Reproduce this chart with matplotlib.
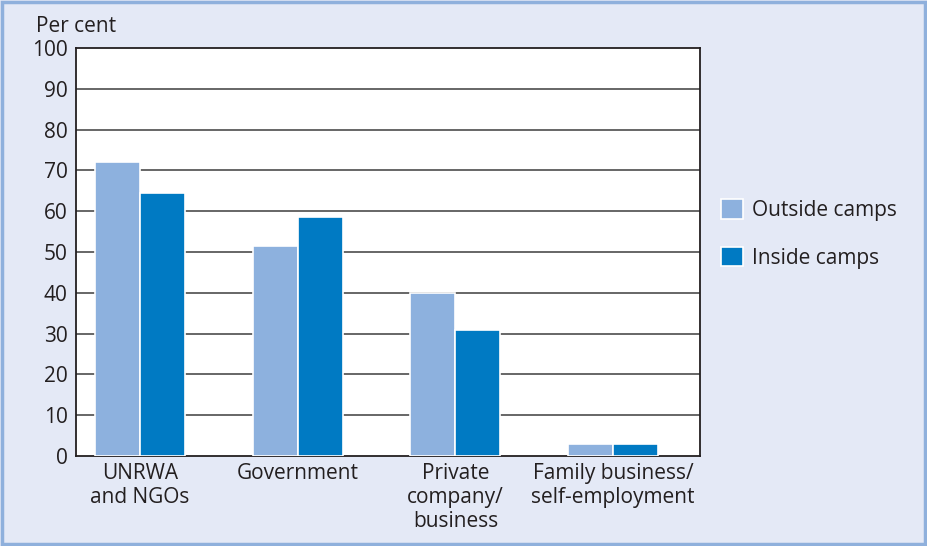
import matplotlib.pyplot as plt
from matplotlib.patches import Rectangle
import numpy as np

plt.rcParams['font.family'] = ['Open Sans', 'DejaVu Sans']

categories = ['UNRWA\nand NGOs', 'Government', 'Private\ncompany/\nbusiness', 'Family business/\nself-employment']
outside = [72, 51.5, 40, 3]
inside = [64.5, 58.5, 31, 3]
series_names = ['Outside camps', 'Inside camps']
yticks = [0, 10, 20, 30, 40, 50, 60, 70, 80, 90, 100]

c_out = '#8db1de'
c_in = '#007ac3'
bg = '#e4e9f6'
txt = '#231f20'
fs = 15

fig = plt.figure(figsize=(9.28, 5.46), dpi=100, facecolor=bg)
# outer frame
fig.patches.append(Rectangle((0.002, 0.004), 0.995, 0.992, transform=fig.transFigure,
                             fill=False, edgecolor='#8fb0dc', linewidth=2.5))

ax = fig.add_axes([76/928, 1-456/546, 624/928, 408/546])
ax.set_facecolor('white')

x = np.arange(len(categories))
w = 0.285
ax.bar(x - w/2, outside, w, color=c_out, edgecolor='white', linewidth=1.2, zorder=3, label=series_names[0])
ax.bar(x + w/2, inside, w, color=c_in, edgecolor='white', linewidth=1.2, zorder=3, label=series_names[1])

ax.set_xlim(-0.405, 3.55)
ax.set_ylim(0, 100)
ax.set_yticks(yticks)
ax.set_yticklabels([str(t) for t in yticks], fontsize=fs, color=txt)
for t in yticks[1:-1]:
    ax.axhline(t, color='#4d4d4d', linewidth=1.2, zorder=1)

ax.set_xticks(x)
ax.set_xticklabels(categories, fontsize=fs, color=txt, linespacing=1.2)
ax.tick_params(axis='y', length=0, pad=6)
ax.tick_params(axis='x', length=0, pad=5)
for s in ax.spines.values():
    s.set_color(txt)
    s.set_linewidth(1.3)

fig.text(36/928, 1-26/546, 'Per cent', fontsize=fs, color=txt, va='center', ha='left')

fig.legend(loc='center left', bbox_to_anchor=(702/928, 1-234/546), frameon=False,
           fontsize=fs, handlelength=1.05, handleheight=1.05, labelspacing=1.25,
           handletextpad=0.45, labelcolor=txt)

fig.savefig('out.png', dpi=100, facecolor=bg)
